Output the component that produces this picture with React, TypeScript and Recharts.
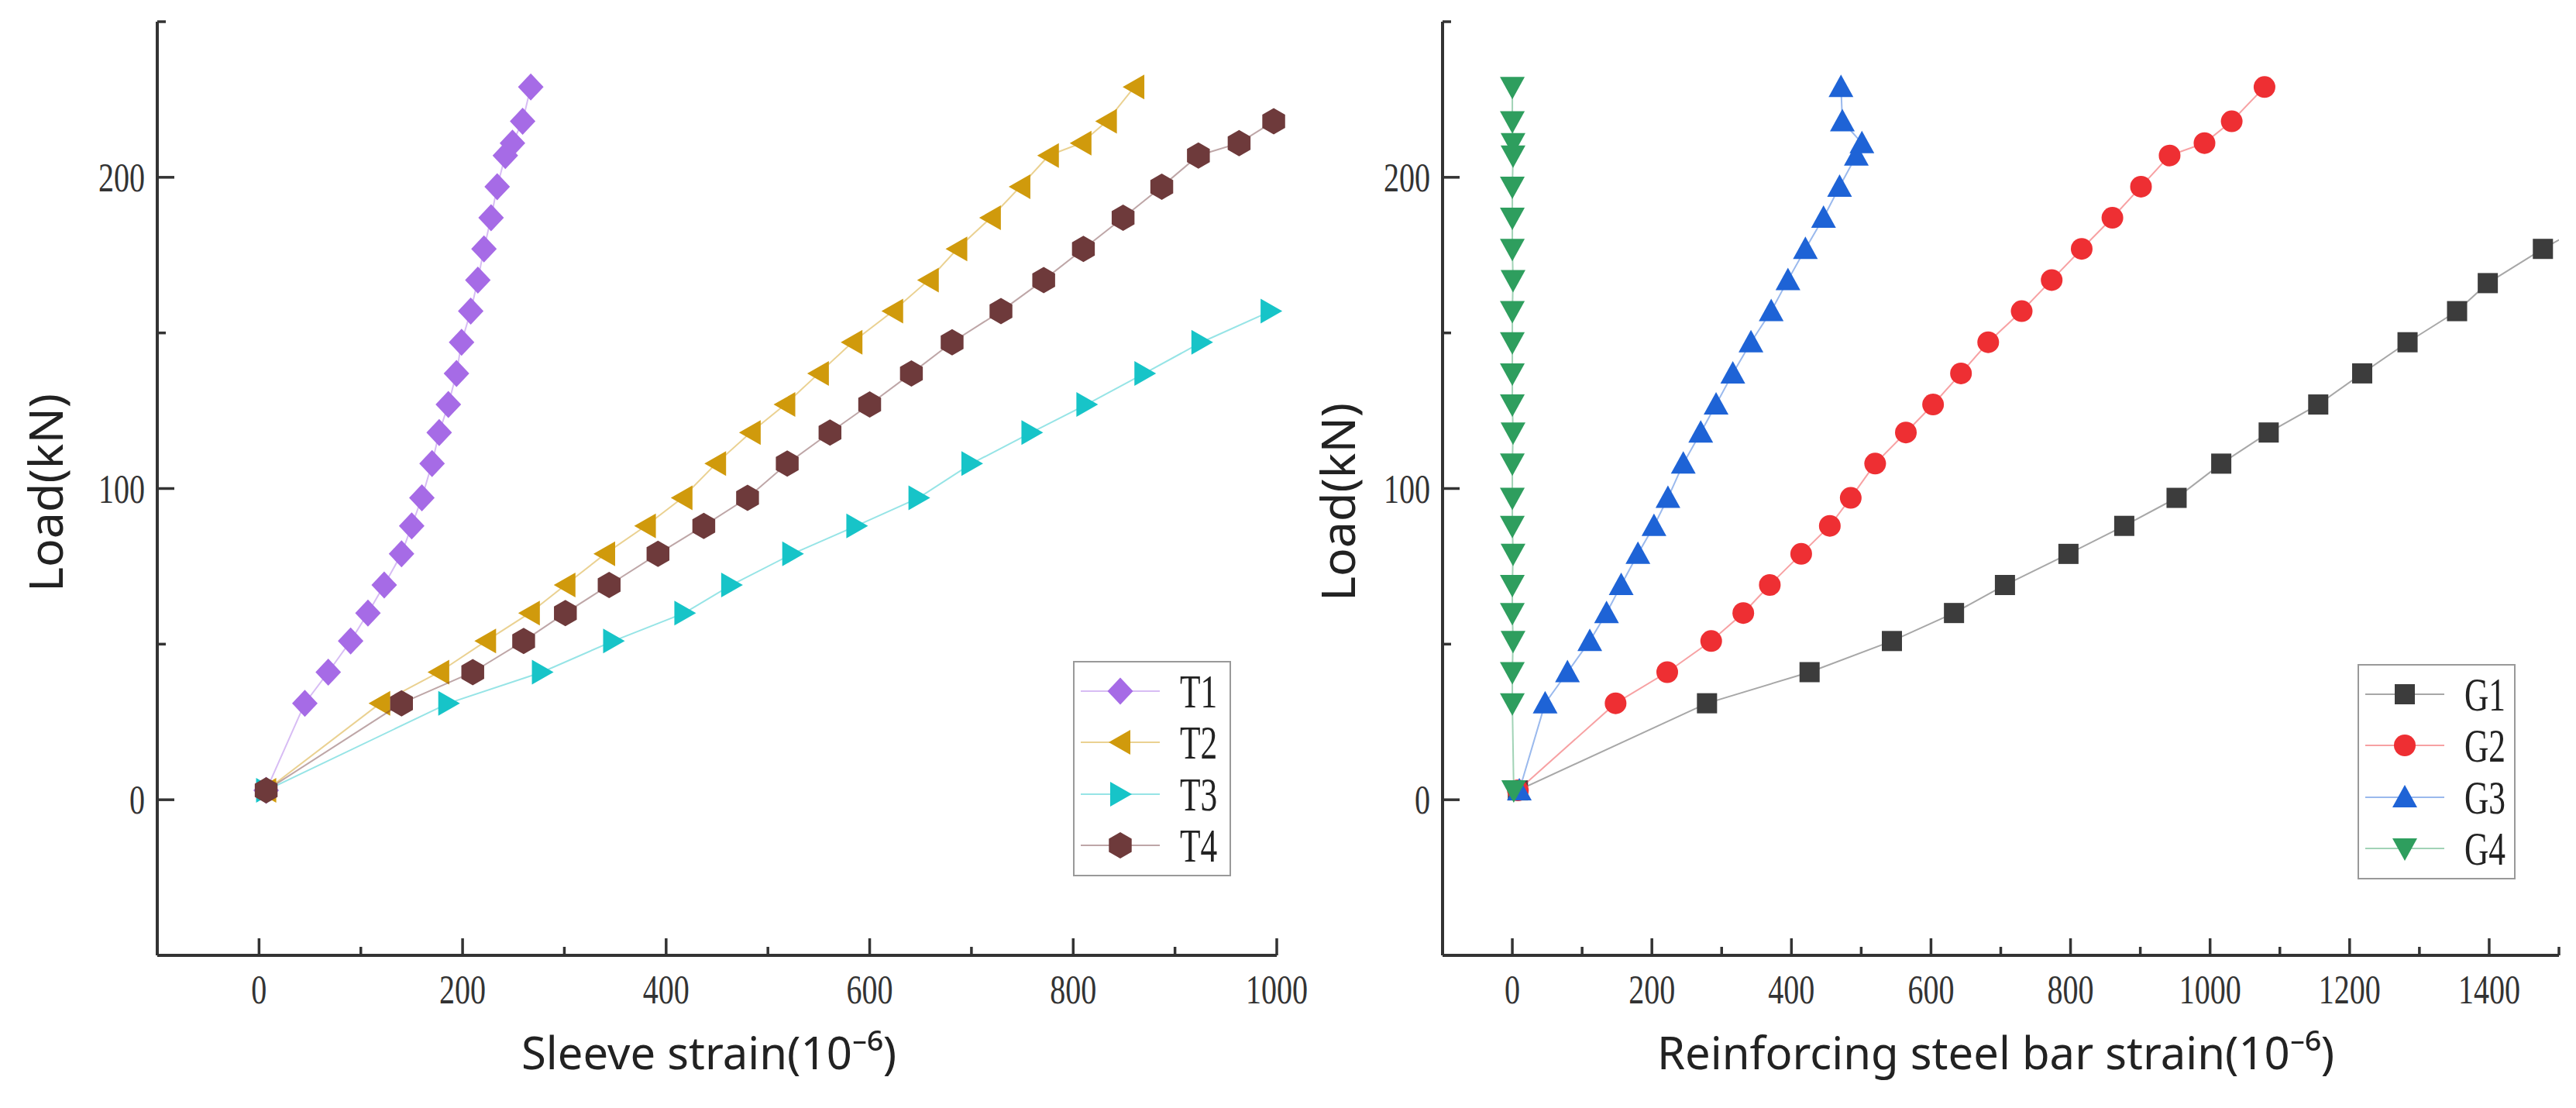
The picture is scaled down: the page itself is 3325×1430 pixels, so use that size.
import React from "react";
import { Scatter, ScatterChart, XAxis, YAxis } from "recharts";

// load steps (kN) shared by most gauges
const loadSteps = [3, 31, 41, 51, 60, 69, 79, 88, 97, 108, 118, 127, 137, 147, 157, 167, 177, 187, 197, 207, 211, 218, 229];

// sleeve strain (10^-6)
const t1Strain = [7, 45, 68, 90, 107, 123, 140, 150, 160, 170, 177, 186, 194, 199, 208, 215, 221, 228, 234, 242, 249, 259, 267];
const t2Strain = [7, 119, 177, 223, 266, 301, 340, 380, 416, 449, 483, 517, 550, 583, 623, 658, 686, 719, 748, 776, 808, 833, 860];
const t3Strain = [7, 186, 278, 348, 418, 464, 524, 587, 648, 700, 759, 813, 870, 926, 994];
const t4Strain = [7, 140, 210, 260, 301, 344, 392, 437, 480, 519, 561, 600, 641, 681, 729, 771, 810, 849, 887, 923, 963, 997];

// reinforcing bar strain (10^-6)
const g1Strain = [8, 279, 426, 544, 633, 706, 797, 877, 952, 1016, 1084, 1155, 1218, 1283, 1354, 1398, 1477, 1557];
const g1Load = [3, 31, 41, 51, 60, 69, 79, 88, 97, 108, 118, 127, 137, 147, 157, 166, 177, 187];
const g2Strain = [8, 148, 222, 285, 331, 369, 414, 455, 485, 520, 564, 603, 643, 682, 730, 773, 816, 860, 901, 942, 992, 1031, 1078];
const g3Strain = [10, 47, 79, 111, 135, 156, 180, 203, 223, 245, 270, 292, 316, 342, 371, 395, 420, 446, 469, 493, 501, 473, 471];
const g4Strain = [2, 0, 0, 1, 0, 0, 1, 0, 0, 0, 1, 0, 0, 0, 0, 1, 0, 0, 0, 1, 1, 0, 0];

const leftXTicks = [0, 100, 200, 300, 400, 500, 600, 700, 800, 900, 1000];
const rightXTicks = [0, 100, 200, 300, 400, 500, 600, 700, 800, 900, 1000, 1100, 1200, 1300, 1400, 1500];
const yTicks = [0, 50, 100, 150, 200, 250];

type Pt = { x: number; y: number };
type Kind = "diamond" | "triLeft" | "triRight" | "hexagon" | "square" | "circle" | "triUp" | "triDown";
type Series = { name: string; color: string; kind: Kind; data: Pt[] };

const zip = (xs: number[], ys: number[]): Pt[] => xs.map((x, i) => ({ x, y: ys[i] }));

const leftSeries: Series[] = [
  { name: "T1", color: "#a66be6", kind: "diamond", data: zip(t1Strain, loadSteps) },
  { name: "T2", color: "#d09a0c", kind: "triLeft", data: zip(t2Strain, loadSteps) },
  { name: "T3", color: "#17c4c8", kind: "triRight", data: zip(t3Strain, loadSteps) },
  { name: "T4", color: "#6e3a3b", kind: "hexagon", data: zip(t4Strain, loadSteps) }
];

const rightSeries: Series[] = [
  { name: "G1", color: "#3c3c3c", kind: "square", data: zip(g1Strain, g1Load) },
  { name: "G2", color: "#ee2f33", kind: "circle", data: zip(g2Strain, loadSteps) },
  { name: "G3", color: "#1e63d6", kind: "triUp", data: zip(g3Strain, loadSteps) },
  { name: "G4", color: "#2e9e5e", kind: "triDown", data: zip(g4Strain, loadSteps) }
];

const AXIS = "#333";
const SERIF = "'Liberation Serif', 'Times New Roman', serif";
const SANS = "'Noto Sans', 'Open Sans', sans-serif";

function marker(kind: Kind, cx: number, cy: number, color: string) {
  const poly = (pts: number[][]) => (
    <polygon points={pts.map((p) => `${cx + p[0]},${cy + p[1]}`).join(" ")} fill={color} />
  );
  switch (kind) {
    case "diamond":
      return poly([[0, -17.5], [16.5, 0], [0, 17.5], [-16.5, 0]]);
    case "triLeft":
      return poly([[-15, 0], [13, -16], [13, 16]]);
    case "triRight":
      return poly([[15, 0], [-13, -16], [-13, 16]]);
    case "triUp":
      return poly([[0, -16], [16, 13], [-16, 13]]);
    case "triDown":
      return poly([[0, 16], [16, -13], [-16, -13]]);
    case "hexagon":
      return poly([-90, -30, 30, 90, 150, 210].map((a) => [17 * Math.cos((a * Math.PI) / 180), 17 * Math.sin((a * Math.PI) / 180)]));
    case "square":
      return <rect x={cx - 13} y={cy - 13} width={26} height={26} fill={color} />;
    default:
      return <circle cx={cx} cy={cy} r={14} fill={color} />;
  }
}

function XTick(props: any) {
  const { x, y, payload, step } = props;
  const v = payload.value;
  const major = v % step === 0;
  return (
    <g>
      <line x1={x} x2={x} y1={y} y2={y - (major ? 22 : 11)} stroke={AXIS} strokeWidth={3.5} />
      {major && (
        <text transform={`translate(${x} ${y + 62}) scale(0.77 1)`} textAnchor="middle" fontFamily={SERIF} fontSize={52} fill="#333">
          {v}
        </text>
      )}
    </g>
  );
}

function YTick(props: any) {
  const { x, y, payload } = props;
  const v = payload.value;
  const major = v % 100 === 0;
  return (
    <g>
      <line x1={x} x2={x + (major ? 22 : 11)} y1={y} y2={y} stroke={AXIS} strokeWidth={3.5} />
      {major && (
        <text transform={`translate(${x - 16} ${y + 18}) scale(0.77 1)`} textAnchor="end" fontFamily={SERIF} fontSize={52} fill="#333">
          {v}
        </text>
      )}
    </g>
  );
}

function XTitle({ cx, text }: { cx: number; text: string }) {
  return (
    <text x={cx} y={1380} textAnchor="middle" fontFamily={SANS} fontSize={58} fill="#222">
      {text}
    </text>
  );
}

function YTitle({ cx, cy }: { cx: number; cy: number }) {
  return (
    <text x={cx} y={cy} transform={`rotate(-90 ${cx} ${cy})`} textAnchor="middle" dominantBaseline="central" fontFamily={SANS} fontSize={61} fill="#222">
      Load(kN)
    </text>
  );
}

function LegendBox({ series, left, top }: { series: Series[]; left: number; top: number }) {
  const rowY = [39, 105, 172, 238];
  return (
    <svg style={{ position: "absolute", left, top }} width={206} height={280}>
      <rect x={1} y={1} width={202} height={276} fill="#fff" stroke="#999" strokeWidth={2} />
      {series.map((s, i) => (
        <g key={s.name}>
          <line x1={10} x2={112} y1={rowY[i]} y2={rowY[i]} stroke={s.color} strokeOpacity={0.45} strokeWidth={2} />
          {marker(s.kind, 61, rowY[i], s.color)}
          <text transform={`translate(138 ${rowY[i] + 21}) scale(0.7 1)`} fontFamily={SERIF} fontSize={62} fill="#222">
            {s.name}
          </text>
        </g>
      ))}
    </svg>
  );
}

function Panel(props: {
  series: Series[];
  width: number;
  yAxisWidth: number;
  marginRight: number;
  xDomain: [number, number];
  xTicks: number[];
  xTitle: string;
  xTitleX: number;
  yTitleX: number;
  yTitleY: number;
  clip: boolean;
}) {
  const { series, width, yAxisWidth, marginRight, xDomain, xTicks } = props;
  return (
    <ScatterChart width={width} height={1430} margin={{ top: 28, right: marginRight, bottom: 0, left: 0 }}>
      <XAxis
        type="number"
        dataKey="x"
        domain={xDomain}
        ticks={xTicks}
        interval={0}
        allowDataOverflow={props.clip}
        height={197}
        tickSize={0}
        tickMargin={0}
        tickLine={false}
        axisLine={{ stroke: AXIS, strokeWidth: 4 }}
        tick={(p: any) => <XTick {...p} step={200} />}
        label={<XTitle cx={props.xTitleX} text={props.xTitle} />}
      />
      <YAxis
        type="number"
        dataKey="y"
        domain={[-50, 250]}
        ticks={yTicks}
        interval={0}
        width={yAxisWidth}
        tickSize={0}
        tickMargin={0}
        tickLine={false}
        axisLine={{ stroke: AXIS, strokeWidth: 4 }}
        tick={(p: any) => <YTick {...p} />}
        label={<YTitle cx={props.yTitleX} cy={props.yTitleY} />}
      />
      {series.map((s) => (
        <Scatter
          key={s.name}
          name={s.name}
          data={s.data}
          isAnimationActive={false}
          line={{ stroke: s.color, strokeOpacity: 0.45, strokeWidth: 2 }}
          shape={(p: any) => marker(s.kind, p.cx, p.cy, s.color)}
        />
      ))}
    </ScatterChart>
  );
}

export default function App() {
  return (
    <div style={{ position: "absolute", left: 0, top: 0, width: 3325, height: 1430, background: "#fff" }}>
      <div style={{ position: "absolute", left: 0, top: 0 }}>
        <Panel
          series={leftSeries}
          width={1720}
          yAxisWidth={203}
          marginRight={72}
          xDomain={[-100, 1000]}
          xTicks={leftXTicks}
          xTitle="Sleeve strain(10⁻⁶)"
          xTitleX={915}
          yTitleX={57}
          yTitleY={636}
          clip={false}
        />
      </div>
      <div style={{ position: "absolute", left: 1660, top: 0 }}>
        <Panel
          series={rightSeries}
          width={1665}
          yAxisWidth={202}
          marginRight={22}
          xDomain={[-100, 1500]}
          xTicks={rightXTicks}
          xTitle="Reinforcing steel bar strain(10⁻⁶)"
          xTitleX={916}
          yTitleX={65}
          yTitleY={648}
          clip={true}
        />
      </div>
      <LegendBox series={leftSeries} left={1385} top={853} />
      <LegendBox series={rightSeries} left={3043} top={857} />
    </div>
  );
}
